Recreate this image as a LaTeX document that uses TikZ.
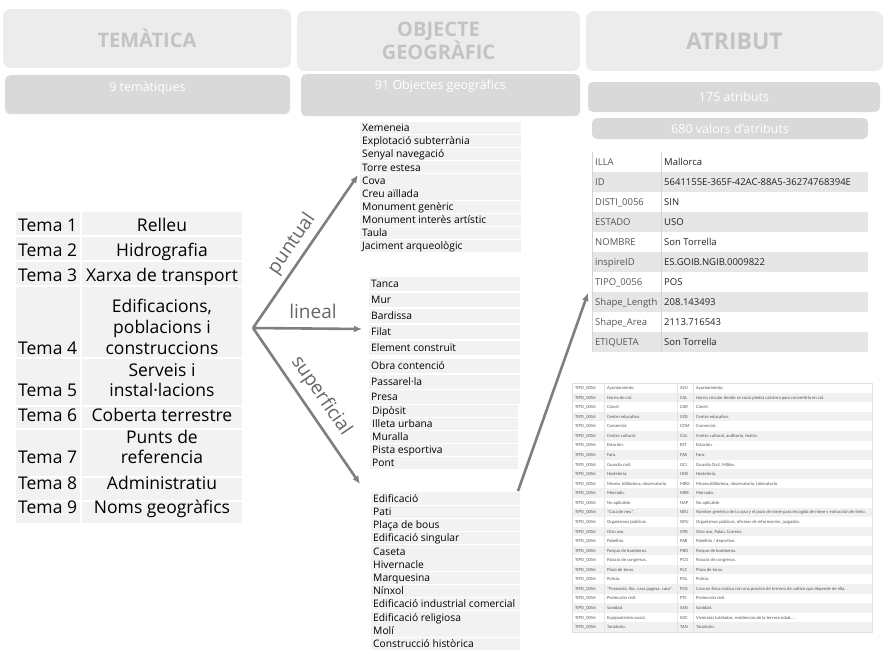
\documentclass[tikz,border=0pt]{standalone}
\usepackage{fontspec}
\setmainfont{Open Sans}
\newfontfamily\tblfont{Carlito}
\usetikzlibrary{arrows.meta}
\definecolor{hdrfill}{HTML}{ECECEC}
\definecolor{hdrtext}{HTML}{C3C3C3}
\definecolor{subfill}{HTML}{D9D9D9}
\definecolor{rowfill}{HTML}{F2F2F2}
\definecolor{arrgray}{HTML}{7F7F7F}
\definecolor{attrgray}{HTML}{E6E6E6}
\definecolor{attrline}{HTML}{D4D4D4}
\definecolor{keytext}{HTML}{555555}
\definecolor{valtext}{HTML}{222222}
\definecolor{smalltext}{HTML}{555555}
\definecolor{smallrow}{HTML}{F1F1F1}
\newcommand{\pxsz}[1]{\fontsize{#1}{#1}\selectfont}
\tikzset{
  hdrbox/.style={fill=hdrfill, rounded corners=8pt, inner sep=0, text=hdrtext, font=\bfseries\pxsz{20}, align=center},
  subbox/.style={fill=subfill, rounded corners=5pt, inner sep=0, text=white, font=\pxsz{12.5}},
  tema/.style={anchor=base west, inner sep=0, font=\pxsz{17.5}},
  temav/.style={anchor=base, inner sep=0, font=\pxsz{17.5}},
  item/.style={anchor=base west, inner sep=0, font=\pxsz{10.3}},
  arrlabel/.style={inner sep=0, font=\pxsz{19}, text=arrgray!80!black},
  conn/.style={draw=arrgray, line width=2.6pt, -{Latex[length=8pt,width=7pt]}},
  akey/.style={anchor=base west, inner sep=0, font=\pxsz{9.5}, text=keytext},
  aval/.style={anchor=base west, inner sep=0, font=\pxsz{9.5}, text=valtext},
  tiny/.style={anchor=base west, inner sep=0, font=\tblfont\pxsz{4.6}, text=smalltext}
}
\begin{document}
\begin{tikzpicture}[x=1pt,y=-1pt]
\useasboundingbox (0,0) rectangle (886,656);
% ---------- headers
\node[hdrbox, minimum width=288pt, minimum height=59pt] (h1) at (147,38.5) {TEMÀTICA};
\node[hdrbox, minimum width=283pt, minimum height=60pt] (h2) at (438.5,41) {OBJECTE\\[-1pt]GEOGRÀFIC};
\node[hdrbox, minimum width=297pt, minimum height=60pt, font=\bfseries\pxsz{23}] (h3) at (734.5,41) {ATRIBUT};
\node[subbox, minimum width=285pt, minimum height=39pt, anchor=north] (s1) at (147.5,75) {};
\node[inner sep=0, text=white, font=\pxsz{12.5}] (s1t) at (147.5,88) {9 temàtiques};
\node[subbox, minimum width=279pt, minimum height=42pt, anchor=north] (s2) at (440.5,74) {};
\node[inner sep=0, text=white, font=\pxsz{12.5}] (s2t) at (440.5,86) {91 Objectes geogràfics};
\node[subbox, minimum width=292pt, minimum height=30pt] (s3) at (734,97) {175 atributs};
\node[subbox, minimum width=276pt, minimum height=21pt] (s4) at (730,128.5) {680 valors d’atributs};
% ---------- left table
\foreach \a/\b in {212/235,237/260,262/285,287/357,359/405,407/428,430/476,478/500,502/523}{
  \fill[rowfill] (16,\a) rectangle (80,\b);
  \fill[rowfill] (82,\a) rectangle (242,\b);
}
\node[tema] (t1) at (18,231) {Tema 1};
\node[tema] (t2) at (18,256) {Tema 2};
\node[tema] (t3) at (18,281) {Tema 3};
\node[tema] (t4) at (18,354) {Tema 4};
\node[tema] (t5) at (18,396) {Tema 5};
\node[tema] (t6) at (18,421) {Tema 6};
\node[tema] (t7) at (18,463) {Tema 7};
\node[tema] (t8) at (18,489) {Tema 8};
\node[tema] (t9) at (18,513) {Tema 9};
\node[temav] (v1) at (162,231) {Relleu};
\node[temav] (v2) at (162,256) {Hidrografia};
\node[temav] (v3) at (162,281) {Xarxa de transport};
\node[temav] (v4a) at (162,312) {Edificacions,};
\node[temav] (v4b) at (162,333) {poblacions i};
\node[temav] (v4c) at (162,354) {construccions};
\node[temav] (v5a) at (162,376) {Serveis i};
\node[temav] (v5b) at (162,396) {instal·lacions};
\node[temav] (v6) at (162,421) {Coberta terrestre};
\node[temav] (v7a) at (162,443) {Punts de};
\node[temav] (v7b) at (162,463) {referencia};
\node[temav] (v8) at (162,489) {Administratiu};
\node[temav] (v9) at (162,513) {Noms geogràfics};
% ---------- puntual list
\foreach \t [count=\i] in {Xemeneia,Explotació subterrània,Senyal navegació,Torre estesa,Cova,Creu aïllada,Monument genèric,Monument interès artístic,Taula,Jaciment arqueològic}{
  \pgfmathsetmacro{\yc}{128+13.1*(\i-1)}
  \fill[rowfill] (360,\yc-6.1) rectangle (521,\yc+6.1);
  \node[item] (p\i) at (362,\yc+3.7) {\t};
}
% ---------- lineal list
\foreach \t/\yc [count=\i] in {Tanca/284,Mur/300,Bardissa/316,Filat/332,Element construït/348,Obra contenció/366,Passarel·la/382,Presa/397}{
  \fill[rowfill] (369,\yc-7.3) rectangle (520,\yc+7.3);
  \node[item] (l\i) at (371,\yc+3.7) {\t};
}
\foreach \t/\yc [count=\i] in {Dipòsit/411,Illeta urbana/424,Muralla/437,Pista esportiva/450,Pont/463}{
  \fill[rowfill] (370,\yc-6.1) rectangle (518,\yc+6.1);
  \node[item] (m\i) at (372,\yc+3.7) {\t};
}
% ---------- superficial list
\foreach \t [count=\i] in {Edificació,Pati,Plaça de bous,Edificació singular,Caseta,Hivernacle,Marquesina,Nínxol,Edificació industrial comercial,Edificació religiosa,Molí,Construcció històrica}{
  \pgfmathsetmacro{\yc}{498.5+13.2*(\i-1)}
  \fill[rowfill] (371,\yc-6.2) rectangle (520,\yc+6.2);
  \node[item] (s\i) at (373,\yc+3.7) {\t};
}
% ---------- connectors
\coordinate (o) at (253,328);
\coordinate (pt) at (358,175);
\coordinate (ln) at (362,329);
\coordinate (sp) at (360,484);
\coordinate (sfc) at (518,491);
\coordinate (att) at (588,293);
\draw[conn] (o) -- (pt);
\draw[conn] (o) -- (ln);
\draw[conn] (o) -- (sp);
\draw[conn] (sfc) -- (att);
\node[arrlabel, rotate=55.4] (lp) at (292,244) {puntual};
\node[arrlabel] (ll) at (313,311) {lineal};
\node[arrlabel, rotate=-55.5] (lsu) at (321,396) {superficial};
% ---------- attribute table
\foreach \k/\v [count=\i] in {ILLA/Mallorca,ID/5641155E-365F-42AC-88A5-36274768394E,DISTI\_0056/SIN,ESTADO/USO,NOMBRE/Son Torrella,inspireID/ES.GOIB.NGIB.0009822,TIPO\_0056/POS,Shape\_Length/208.143493,Shape\_Area/2113.716543,ETIQUETA/Son Torrella}{
  \pgfmathsetmacro{\yc}{162+20*(\i-1)}
  \ifodd\i
    \fill[white] (592,\yc-10) rectangle (868,\yc+10);
  \else
    \fill[attrgray] (592,\yc-10) rectangle (868,\yc+10);
  \fi
  \node[akey] (ak\i) at (595,\yc+3.4) {\k};
  \node[aval] (av\i) at (664,\yc+3.4) {\v};
}
\draw[attrline, line width=0.8pt] (592,152) -- (592,352);
\draw[attrline, line width=0.8pt] (661,152) -- (661,352);
% ---------- values table
\foreach \n/\c/\d [count=\i] in {
 {Ayuntamiento.}/AYU/{Ayuntamiento.},
 {Horno de cal.}/CAL/{Horno circular donde se cocía piedra calcárea para convertirla en cal.},
 {Cárcel.}/CAR/{Cárcel.},
 {Centro educativo.}/CED/{Centro educativo.},
 {Comercial.}/COM/{Comercial.},
 {Centro cultural.}/CUL/{Centro cultural, auditorio, teatro.},
 {Estación.}/EST/{Estación.},
 {Faro.}/FAR/{Faro.},
 {Guardia civil.}/GCI/{Guardia Civil, Militar.},
 {Hostelería.}/HOS/{Hostelería.},
 {Museo, biblioteca, observatorio.}/MBO/{Museo,biblioteca, observatorio, laboratorio.},
 {Mercado.}/MER/{Mercado.},
 {No aplicable.}/NAP/{No aplicable.},
 {"Casa de neu".}/NEU/{Nombre genérico de la casa y el pozo de nieve para recogida de nieve y extracción de hielo.},
 {Organismos públicos.}/OPU/{Organismos públicos, oficinas de información, juzgados.},
 {Otro uso.}/OTR/{Otro uso, Palau, Correos.},
 {Pabellón.}/PAB/{Pabellón / deportivo.},
 {Parque de bomberos.}/PBO/{Parque de bomberos.},
 {Palacio de congresos.}/PCO/{Palacio de congresos.},
 {Plaza de toros.}/PLZ/{Plaza de toros.},
 {Policía.}/POL/{Policía.},
 {"Possessió, lloc, casa pagesa, casa".}/POS/{Casa en finca rústica con una porción de terreno de cultivo que depende de ella.},
 {Protección civil.}/PTC/{Protección civil.},
 {Sanidad.}/SAN/{Sanidad.},
 {Equipamiento social.}/SOC/{Viviendas tuteladas, residencias de la tercera edad,...},
 {Tanatorio.}/TAN/{Tanatorio.}}{
  \pgfmathsetmacro{\yc}{388+9.56*(\i-1)}
  \ifodd\i\else
    \fill[smallrow] (572,\yc-4.78) rectangle (872,\yc+4.78);
  \fi
  \node[tiny] (bk\i) at (575,\yc+1.6) {TIPO\_0056};
  \node[tiny] (bn\i) at (607,\yc+1.6) {\n};
  \node[tiny] (bc\i) at (680,\yc+1.6) {\c};
  \node[tiny] (bd\i) at (696,\yc+1.6) {\d};
}
\draw[black!12, line width=0.4pt] (572,383.2) rectangle (872,632.2);
\draw[black!10, line width=0.4pt] (604,383.2) -- (604,632.2);
\draw[black!10, line width=0.4pt] (677,383.2) -- (677,632.2);
\draw[black!10, line width=0.4pt] (693,383.2) -- (693,632.2);
\end{tikzpicture}
\end{document}
